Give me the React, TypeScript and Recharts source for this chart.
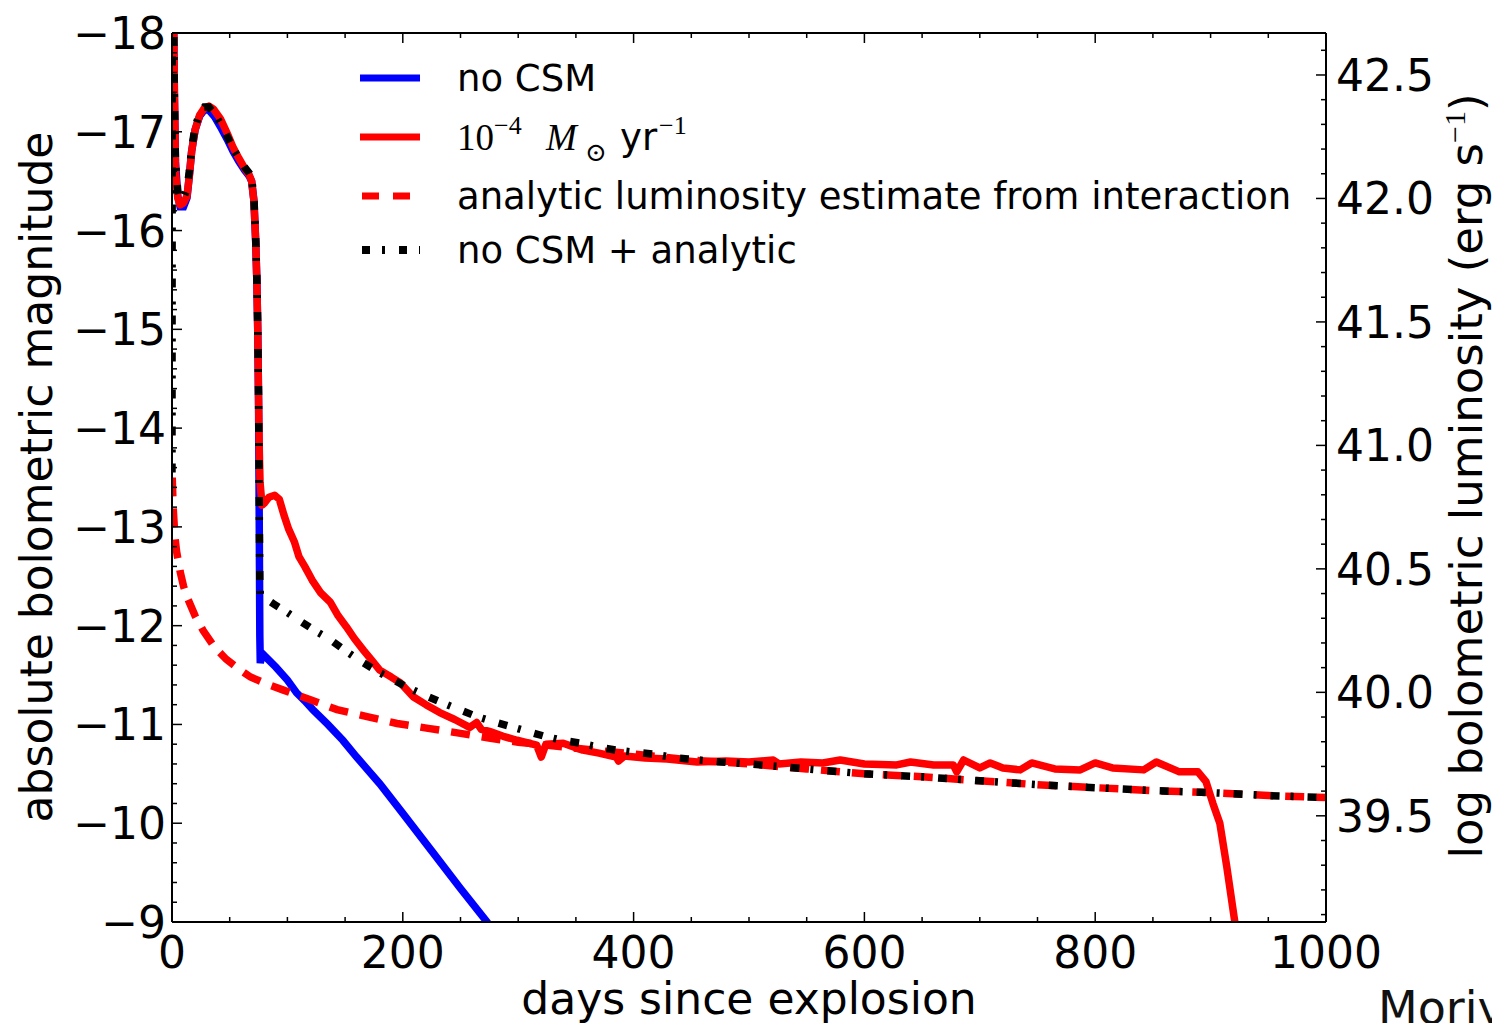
import { LineChart, Line, XAxis, YAxis, Legend, Label } from 'recharts'

// [day, absolute bolometric magnitude]
const NO_CSM: [number, number][] = [
  [0.3, -19.5], [1, -18.6], [2, -17.4], [3, -16.7], [5, -16.35], [7, -16.24], [10, -16.24], [13, -16.33],
  [15, -16.55], [17, -16.8], [20, -17.02], [24, -17.16], [28, -17.22], [32, -17.22], [37, -17.15], [42, -17.05],
  [48, -16.92], [53, -16.8], [58, -16.7], [63, -16.61], [67, -16.55], [69, -16.5], [71, -16.3], [72.5, -15.9],
  [73.5, -15.5], [74.3, -15.0], [75, -14.3], [75.4, -13.5], [75.8, -12.6], [76.1, -11.9], [76.5, -11.62],
  [78, -11.72], [90, -11.58], [100, -11.45], [108, -11.32], [115, -11.24], [122, -11.15], [135, -11.0],
  [148, -10.84], [160, -10.67], [180, -10.4], [200, -10.1], [225, -9.72], [250, -9.34], [273, -9.0], [280, -8.88],
]

const CSM_1E4: [number, number][] = [
  [0.3, -19.5], [1, -18.7], [2, -17.5], [3, -16.6], [5, -16.33], [7, -16.26], [10, -16.28], [13, -16.35],
  [15, -16.55], [17, -16.8], [20, -17.02], [24, -17.17], [28, -17.24], [32, -17.26], [36, -17.23], [42, -17.13],
  [48, -16.98], [53, -16.84], [58, -16.73], [63, -16.63], [67, -16.56], [69, -16.5], [71, -16.3], [72.5, -15.9],
  [73.5, -15.5], [74.3, -15.0], [75, -14.3], [75.6, -13.8], [76.3, -13.45], [78, -13.22], [80, -13.24],
  [84, -13.3], [89, -13.32], [93, -13.28], [97, -13.12], [101, -12.98], [106, -12.85], [110, -12.7],
  [115, -12.6], [122, -12.45], [129, -12.33], [137, -12.24], [144, -12.1], [151, -11.99], [158, -11.87],
  [166, -11.75], [173, -11.65], [180, -11.55], [190, -11.48], [198, -11.42], [209, -11.28], [220, -11.2],
  [232, -11.12], [245, -11.05], [258, -10.97], [264, -11.02], [268, -10.95], [275, -10.93], [287, -10.88],
  [299, -10.84], [316, -10.79], [320, -10.67], [324, -10.8], [339, -10.81], [356, -10.74], [370, -10.71],
  [385, -10.67], [387, -10.63], [392, -10.68], [410, -10.66], [429, -10.65], [455, -10.62], [480, -10.63],
  [500, -10.62], [521, -10.64], [526, -10.6], [545, -10.62], [564, -10.61], [579, -10.64], [600, -10.6],
  [628, -10.59], [640, -10.62], [660, -10.59], [677, -10.59], [680, -10.52], [686, -10.64], [700, -10.56],
  [709, -10.61], [720, -10.56], [735, -10.54], [745, -10.61], [765, -10.55], [787, -10.54], [800, -10.61],
  [815, -10.56], [842, -10.54], [853, -10.62], [873, -10.52], [889, -10.52], [896, -10.42], [902, -10.2],
  [908, -10.0], [914, -9.56], [921, -9.0], [924, -8.7],
]

const ANALYTIC: [number, number][] = [
  [0.2, -13.5], [1, -13.2], [2.5, -12.9], [4, -12.75], [7, -12.55], [10, -12.4], [13, -12.29], [20, -12.1],
  [27, -11.95], [37, -11.78], [47, -11.66], [58, -11.56], [68, -11.48], [82, -11.41], [96, -11.35],
  [120, -11.25], [143, -11.15], [169, -11.08], [195, -11.01], [222, -10.96], [250, -10.91], [276, -10.86],
  [300, -10.82], [350, -10.76], [400, -10.7], [450, -10.64], [500, -10.6], [550, -10.55], [600, -10.5],
  [650, -10.47], [700, -10.43], [750, -10.39], [800, -10.36], [850, -10.33], [900, -10.31], [950, -10.28],
  [1000, -10.26],
]

const NO_CSM_PLUS_ANALYTIC: [number, number][] = [
  [0, -13.55], [0.3, -19.5], [1, -18.6], [2, -17.4], [3, -16.7], [5, -16.4], [7, -16.33], [10, -16.33],
  [13, -16.42], [15, -16.6], [17, -16.83], [20, -17.05], [24, -17.19], [28, -17.25], [32, -17.25], [37, -17.18],
  [42, -17.08], [48, -16.95], [53, -16.83], [58, -16.73], [63, -16.64], [67, -16.58], [69, -16.53],
  [71, -16.33], [72.5, -15.93], [73.5, -15.53], [74.3, -15.03], [75, -14.33], [75.4, -13.6], [75.8, -12.9],
  [76.1, -12.45], [76.5, -12.31], [88, -12.22], [99, -12.14], [112, -12.04], [125, -11.94], [137, -11.86],
  [151, -11.74], [165, -11.63], [179, -11.53], [192, -11.45], [205, -11.37], [220, -11.29], [234, -11.22],
  [249, -11.15], [264, -11.08], [278, -11.03], [293, -10.98], [308, -10.93], [323, -10.88], [338, -10.84],
  [354, -10.81], [370, -10.77], [385, -10.74], [400, -10.72], [417, -10.7], [432, -10.67], [447, -10.65],
  [475, -10.62], [500, -10.6], [550, -10.55], [600, -10.5], [650, -10.47], [700, -10.43], [750, -10.39],
  [800, -10.36], [850, -10.33], [900, -10.31], [950, -10.28], [1000, -10.26],
]

const DAY_TICKS = [0, 50, 100, 150, 200, 250, 300, 350, 400, 450, 500, 550, 600, 650, 700, 750, 800, 850, 900, 950, 1000]
const DAY_LABELS = [0, 200, 400, 600, 800, 1000]
const MAG_LABELS = [-18, -17, -16, -15, -14, -13, -12, -11, -10, -9]
const LOGL_LABELS = [39.5, 40.0, 40.5, 41.0, 41.5, 42.0, 42.5]

const MAG_TICKS = Array.from({ length: 46 }, (_, i) => Math.round((-18 + i * 0.2) * 10) / 10)
const LOGL_TICKS = Array.from({ length: 36 }, (_, i) => Math.round((39.1 + i * 0.1) * 10) / 10)

const MAG_DOMAIN: [number, number] = [-18, -9]
const LOGL_DOMAIN: [number, number] = [39.07, 42.67]

const toRows = (pts: [number, number][]) => pts.map(([day, mag]) => ({ day, mag }))

const SANS = '"DejaVu Sans", sans-serif'
const SERIF = '"Liberation Serif", "DejaVu Serif", serif'
const FS = 44
const LFS = 37
const LW = 7.5

const near = (a: number, list: number[]) => list.some((v) => Math.abs(v - a) < 1e-6)

const LeftTick = (props: any) => {
  const { x, y, payload } = props
  const major = near(payload.value, MAG_LABELS)
  return (
    <g>
      <line x1={x} x2={x + (major ? 10 : 5)} y1={y} y2={y} stroke="#000" strokeWidth={1.5} />
      {major && (
        <text x={x - 6} y={y + 16} textAnchor="end" fontFamily={SANS} fontSize={FS} fill="#000">
          {'\u2212' + Math.abs(payload.value)}
        </text>
      )}
    </g>
  )
}

const RightTick = (props: any) => {
  const { x, y, payload } = props
  const major = near(payload.value, LOGL_LABELS)
  return (
    <g>
      <line x1={x} x2={x - (major ? 10 : 5)} y1={y} y2={y} stroke="#000" strokeWidth={1.5} />
      {major && (
        <text x={x + 10} y={y + 16} textAnchor="start" fontFamily={SANS} fontSize={FS} fill="#000">
          {payload.value.toFixed(1)}
        </text>
      )}
    </g>
  )
}

const BottomTick = (props: any) => {
  const { x, y, payload } = props
  const major = near(payload.value, DAY_LABELS)
  return (
    <g>
      <line x1={x} x2={x} y1={y} y2={y - (major ? 10 : 5)} stroke="#000" strokeWidth={1.5} />
      {major && (
        <text x={x} y={y + 46} textAnchor="middle" fontFamily={SANS} fontSize={FS} fill="#000">
          {payload.value}
        </text>
      )}
    </g>
  )
}

const TopTick = (props: any) => {
  const { x, y, payload } = props
  const major = near(payload.value, DAY_LABELS)
  return <line x1={x} x2={x} y1={y} y2={y + (major ? 10 : 5)} stroke="#000" strokeWidth={1.5} />
}

const renderLegend = () => (
  <svg width={1400} height={280} style={{ position: 'absolute', left: 0, top: 0 }}>
    <line x1={360} x2={420} y1={78} y2={78} stroke="#0000ff" strokeWidth={7} />
    <text x={457} y={91} fontFamily={SANS} fontSize={LFS}>no CSM</text>

    <line x1={360} x2={420} y1={137} y2={137} stroke="#ff0000" strokeWidth={7} />
    <text y={150} fontSize={LFS} fill="#000">
      <tspan x={457} fontFamily={SERIF}>10</tspan>
      <tspan x={494} y={134} fontFamily={SERIF} fontSize={26}>{'\u22124'}</tspan>
      <tspan x={546} y={150} fontFamily={SERIF} fontStyle="italic">M</tspan>
      <tspan x={585} y={161} fontFamily={SERIF} fontSize={26}>{'\u2299'}</tspan>
      <tspan x={620} y={150} fontFamily={SANS}>yr</tspan>
      <tspan x={659} y={134} fontFamily={SERIF} fontSize={26}>{'\u22121'}</tspan>
    </text>

    <line x1={362} x2={420} y1={196} y2={196} stroke="#ff0000" strokeWidth={7} strokeDasharray="17 14" />
    <text x={457} y={209} fontFamily={SANS} fontSize={LFS}>analytic luminosity estimate from interaction</text>

    <line x1={362} x2={420} y1={250} y2={250} stroke="#000" strokeWidth={8} strokeDasharray="8 12 3 14" />
    <text x={457} y={263} fontFamily={SANS} fontSize={LFS}>no CSM + analytic</text>
  </svg>
)

export default function App() {
  return (
    <div style={{ position: 'absolute', left: 0, top: 0, width: 1492, height: 1023, background: '#fff', overflow: 'hidden' }}>
      <LineChart width={1492} height={1023} margin={{ top: 0, right: 0, bottom: 0, left: 0 }}>
        <XAxis
          xAxisId="bottom"
          dataKey="day"
          type="number"
          domain={[0, 1000]}
          ticks={DAY_TICKS}
          interval={0}
          allowDataOverflow
          height={101}
          tickSize={0}
          tickMargin={0}
          tick={BottomTick}
          axisLine={{ stroke: '#000', strokeWidth: 2 }}
          tickLine={false}
        >
          <Label
            content={() => (
              <g>
                <text x={749} y={1014} textAnchor="middle" fontFamily={SANS} fontSize={FS} fill="#000">
                  days since explosion
                </text>
                <text x={1378} y={1024} fontFamily={SANS} fontSize={46} fill="#111">Moriya</text>
              </g>
            )}
          />
        </XAxis>
        <XAxis
          xAxisId="top"
          orientation="top"
          dataKey="day"
          type="number"
          domain={[0, 1000]}
          ticks={DAY_TICKS}
          interval={0}
          allowDataOverflow
          height={33}
          tickSize={0}
          tickMargin={0}
          tick={TopTick}
          axisLine={{ stroke: '#000', strokeWidth: 2 }}
          tickLine={false}
        />
        <YAxis
          yAxisId="left"
          dataKey="mag"
          type="number"
          domain={MAG_DOMAIN}
          reversed
          ticks={MAG_TICKS}
          interval={0}
          allowDataOverflow
          width={172}
          tickSize={0}
          tickMargin={0}
          tick={LeftTick}
          axisLine={{ stroke: '#000', strokeWidth: 2 }}
          tickLine={false}
        >
          <Label
            content={() => (
              <text
                x={52}
                y={477}
                transform="rotate(-90 52 477)"
                textAnchor="middle"
                fontFamily={SANS}
                fontSize={FS}
                fill="#000"
              >
                absolute bolometric magnitude
              </text>
            )}
          />
        </YAxis>
        <YAxis
          yAxisId="right"
          orientation="right"
          type="number"
          domain={LOGL_DOMAIN}
          ticks={LOGL_TICKS}
          interval={0}
          allowDataOverflow
          width={166}
          tickSize={0}
          tickMargin={0}
          tick={RightTick}
          axisLine={{ stroke: '#000', strokeWidth: 2 }}
          tickLine={false}
        >
          <Label
            content={() => (
              <text
                x={1482}
                y={476}
                transform="rotate(-90 1482 476)"
                textAnchor="middle"
                fontFamily={SANS}
                fontSize={45}
                fill="#000"
              >
                log bolometric luminosity (erg s
                <tspan fontFamily={SERIF} fontSize={30} dy={-17}>{'\u22121'}</tspan>
                <tspan dy={17}>)</tspan>
              </text>
            )}
          />
        </YAxis>

        <Line
          xAxisId="bottom"
          yAxisId="left"
          data={toRows(NO_CSM)}
          dataKey="mag"
          type="linear"
          stroke="#0000ff"
          strokeWidth={LW}
          dot={false}
          isAnimationActive={false}
        />
        <Line
          xAxisId="bottom"
          yAxisId="left"
          data={toRows(CSM_1E4)}
          dataKey="mag"
          type="linear"
          stroke="#ff0000"
          strokeWidth={LW}
          strokeLinejoin="round"
          dot={false}
          isAnimationActive={false}
        />
        <Line
          xAxisId="bottom"
          yAxisId="left"
          data={toRows(ANALYTIC)}
          dataKey="mag"
          type="linear"
          stroke="#ff0000"
          strokeWidth={LW}
          strokeDasharray="19 12"
          dot={false}
          isAnimationActive={false}
        />
        <Line
          xAxisId="bottom"
          yAxisId="left"
          data={toRows(NO_CSM_PLUS_ANALYTIC)}
          dataKey="mag"
          type="linear"
          stroke="#000"
          strokeWidth={LW}
          strokeDasharray="9 11 3 14"
          dot={false}
          isAnimationActive={false}
        />
        <Legend layout="horizontal" verticalAlign="middle" align="center" content={renderLegend}
          wrapperStyle={{ left: 0, top: 0, width: 1400, height: 280 }} />
      </LineChart>
    </div>
  )
}
